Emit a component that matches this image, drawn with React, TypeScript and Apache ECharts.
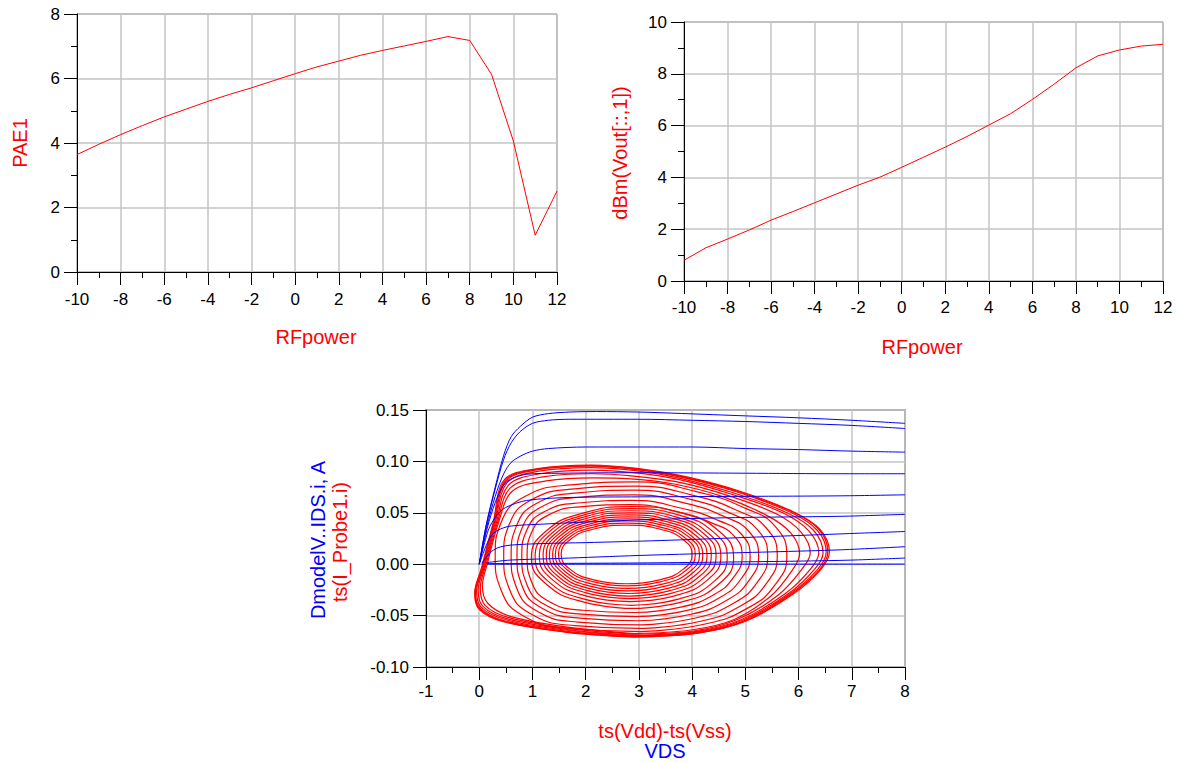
import { useEffect, useRef } from 'react';
import * as echarts from 'echarts';

// RF input power sweep (dBm)
const rfPower = [-10, -9, -8, -7, -6, -5, -4, -3, -2, -1, 0, 1, 2, 3, 4, 5, 6, 7, 8, 9, 10, 11, 12];

// Power-added efficiency (%)
const pae1 = [3.64, 3.96, 4.26, 4.54, 4.81, 5.05, 5.29, 5.51, 5.71, 5.93, 6.15, 6.36, 6.54, 6.72, 6.87, 7.01, 7.15, 7.3, 7.18, 6.13, 4.06, 1.14, 2.51];

// Fundamental output power (dBm)
const dbmVout = [0.8, 1.28, 1.62, 1.97, 2.35, 2.68, 3.02, 3.36, 3.7, 4.01, 4.39, 4.78, 5.17, 5.58, 6.02, 6.46, 7.01, 7.6, 8.23, 8.69, 8.92, 9.07, 9.14];

// DC IV family: [VDS, IDS] per gate-voltage step
const ivVgs1 = [[0.0, 0.0], [0.13, 0.038], [0.3, 0.075], [0.46, 0.106], [0.6, 0.124], [0.77, 0.134], [1.0, 0.143], [1.3, 0.1465], [1.7, 0.148], [2.2, 0.1485], [3.0, 0.148], [3.8, 0.1466], [5.0, 0.1443], [6.0, 0.1424], [7.0, 0.14], [8.0, 0.137]];
const ivVgs2 = [[0.0, 0.0], [0.13, 0.037], [0.3, 0.073], [0.46, 0.102], [0.6, 0.118], [0.77, 0.129], [1.0, 0.137], [1.3, 0.14], [1.7, 0.141], [3.0, 0.141], [4.0, 0.14], [5.0, 0.1388], [6.0, 0.137], [7.0, 0.135], [8.0, 0.132]];
const ivVgs3 = [[0.0, 0.0], [0.14, 0.036], [0.3, 0.066], [0.46, 0.088], [0.6, 0.099], [0.77, 0.105], [1.0, 0.11], [1.3, 0.1125], [2.0, 0.114], [3.0, 0.114], [4.0, 0.114], [5.0, 0.1125], [6.0, 0.1115], [7.0, 0.11], [8.0, 0.109]];
const ivVgs4 = [[0.0, 0.0], [0.15, 0.035], [0.3, 0.06], [0.46, 0.077], [0.6, 0.083], [0.89, 0.0875], [1.5, 0.0885], [3.0, 0.089], [5.0, 0.0885], [6.8, 0.088], [8.0, 0.088]];
const ivVgs5 = [[0.0, 0.0], [0.17, 0.033], [0.32, 0.047], [0.49, 0.055], [0.89, 0.062], [1.77, 0.065], [3.0, 0.0655], [5.0, 0.066], [6.8, 0.0665], [8.0, 0.0675]];
const ivVgs6 = [[0.0, 0.0], [0.2, 0.026], [0.35, 0.033], [0.58, 0.037], [1.2, 0.039], [2.45, 0.042], [3.4, 0.0437], [5.0, 0.0455], [6.8, 0.0466], [8.0, 0.0485]];
const ivVgs7 = [[0.05, 0.001], [0.2, 0.011], [0.35, 0.016], [0.58, 0.0185], [1.2, 0.0201], [2.0, 0.021], [3.4, 0.023], [5.0, 0.026], [6.8, 0.0295], [8.0, 0.0318]];
const ivVgs8 = [[0.15, 0.0016], [0.58, 0.004], [1.5, 0.0056], [3.0, 0.0085], [4.0, 0.01], [5.5, 0.012], [6.8, 0.014], [8.0, 0.017]];
const ivVgs9 = [[0.15, 0.0005], [1.5, 0.0008], [3.0, 0.0012], [4.5, 0.002], [6.0, 0.003], [7.0, 0.004], [8.0, 0.006]];
const ivVgs10 = [[0.15, 0.0], [8.0, 0.0]];
const ivFamily = [ivVgs1, ivVgs2, ivVgs3, ivVgs4, ivVgs5, ivVgs6, ivVgs7, ivVgs8, ivVgs9, ivVgs10];

// Dynamic load lines: [Vdd-Vss, I_Probe1] over one RF period, one loop per RF power step
const loopRfM10 = [[4.0, 0.0095], [3.835, 0.0238], [3.385, 0.0342], [2.77, 0.038], [2.155, 0.0342], [1.705, 0.0238], [1.54, 0.0095], [1.705, -0.0048], [2.155, -0.0152], [2.77, -0.019], [3.385, -0.0152], [3.835, -0.0048]];
const loopRfM9 = [[4.06, 0.0095], [3.888, 0.0248], [3.418, 0.0359], [2.775, 0.04], [2.132, 0.0359], [1.662, 0.0248], [1.49, 0.0095], [1.662, -0.0058], [2.132, -0.0169], [2.775, -0.021], [3.418, -0.0169], [3.888, -0.0058]];
const loopRfM8 = [[4.14, 0.0093], [3.958, 0.0257], [3.463, 0.0377], [2.785, 0.042], [2.107, 0.0377], [1.612, 0.0257], [1.43, 0.0093], [1.612, -0.0071], [2.107, -0.0191], [2.785, -0.0235], [3.463, -0.0191], [3.958, -0.0071]];
const loopRfM7 = [[4.2, 0.009], [4.011, 0.0265], [3.495, 0.0393], [2.79, 0.044], [2.085, 0.0393], [1.569, 0.0265], [1.38, 0.009], [1.569, -0.0085], [2.085, -0.0213], [2.79, -0.026], [3.495, -0.0213], [4.011, -0.0085]];
const loopRfM6 = [[4.28, 0.0088], [4.082, 0.0274], [3.54, 0.0411], [2.8, 0.046], [2.06, 0.0411], [1.518, 0.0274], [1.32, 0.0088], [1.518, -0.0098], [2.06, -0.0235], [2.8, -0.0285], [3.54, -0.0235], [4.082, -0.0098]];
const loopRfM5 = [[4.36, 0.0085], [4.152, 0.0283], [3.585, 0.0427], [2.81, 0.048], [2.035, 0.0427], [1.468, 0.0283], [1.26, 0.0085], [1.468, -0.0113], [2.035, -0.0257], [2.81, -0.031], [3.585, -0.0257], [4.152, -0.0113]];
const loopRfM4 = [[4.45, 0.0083], [4.232, 0.0292], [3.638, 0.0445], [2.825, 0.05], [2.013, 0.0445], [1.418, 0.0292], [1.2, 0.0083], [1.418, -0.0126], [2.013, -0.0279], [2.825, -0.0335], [3.638, -0.0279], [4.232, -0.0126]];
const loopRfM3 = [[4.54, 0.0078], [4.312, 0.0299], [3.688, 0.0461], [2.835, 0.052], [1.982, 0.0461], [1.358, 0.0299], [1.13, 0.0078], [1.358, -0.0143], [1.982, -0.0305], [2.835, -0.0365], [3.688, -0.0305], [4.312, -0.0143]];
const loopRfM2 = [[4.66, 0.007], [4.418, 0.0305], [3.758, 0.0477], [2.855, 0.054], [1.953, 0.0477], [1.292, 0.0305], [1.05, 0.007], [1.292, -0.0165], [1.953, -0.0337], [2.855, -0.04], [3.758, -0.0337], [4.418, -0.0165]];
const loopRfM1 = [[4.78, 0.0065], [4.525, 0.0313], [3.83, 0.0494], [2.88, 0.056], [1.93, 0.0494], [1.235, 0.0313], [0.98, 0.0065], [1.235, -0.0183], [1.93, -0.0364], [2.88, -0.043], [3.83, -0.0364], [4.525, -0.0183]];
const loopRf0 = [[4.94, 0.008], [4.778, 0.028], [4.374, 0.04], [3.728, 0.051], [2.839, 0.058], [1.95, 0.056], [1.304, 0.048], [0.981, 0.0305], [0.9, 0.008], [0.981, -0.0168], [1.304, -0.036], [1.95, -0.0448], [2.92, -0.047], [3.809, -0.0415], [4.415, -0.0294], [4.778, -0.0129]];
const loopRf1 = [[5.09, 0.008], [4.918, 0.0296], [4.489, 0.0426], [3.803, 0.0544], [2.859, 0.062], [1.915, 0.0598], [1.229, 0.0512], [0.886, 0.0323], [0.8, 0.008], [0.886, -0.0186], [1.229, -0.0392], [1.915, -0.0486], [2.945, -0.051], [3.889, -0.0451], [4.532, -0.0321], [4.918, -0.0144]];
const loopRf2 = [[5.25, 0.008], [5.068, 0.0318], [4.614, 0.0461], [3.888, 0.0592], [2.889, 0.0675], [1.89, 0.0651], [1.164, 0.0556], [0.801, 0.0348], [0.71, 0.008], [0.801, -0.0204], [1.164, -0.0424], [1.89, -0.0525], [2.98, -0.055], [3.979, -0.0487], [4.66, -0.0348], [5.068, -0.0159]];
const loopRf3 = [[5.42, 0.008], [5.227, 0.0336], [4.745, 0.049], [3.974, 0.063], [2.914, 0.072], [1.853, 0.0694], [1.082, 0.0592], [0.696, 0.0368], [0.6, 0.008], [0.696, -0.0222], [1.082, -0.0456], [1.853, -0.0563], [3.01, -0.059], [4.07, -0.0523], [4.793, -0.0376], [5.227, -0.0175]];
const loopRf4 = [[5.6, 0.008], [5.394, 0.0352], [4.88, 0.0515], [4.058, 0.0665], [2.927, 0.076], [1.796, 0.0733], [0.974, 0.0624], [0.563, 0.0386], [0.46, 0.008], [0.563, -0.0237], [0.974, -0.0484], [1.796, -0.0597], [3.03, -0.0625], [4.161, -0.0555], [4.932, -0.0399], [5.394, -0.0188]];
const loopRf5 = [[5.78, 0.008], [5.561, 0.0368], [5.013, 0.0541], [4.136, 0.0699], [2.93, 0.08], [1.725, 0.0771], [0.848, 0.0656], [0.41, 0.0404], [0.3, 0.008], [0.41, -0.0251], [0.848, -0.0508], [1.725, -0.0626], [3.04, -0.0655], [4.246, -0.0582], [5.068, -0.042], [5.561, -0.0199]];
const loopRf6 = [[6.02, 0.01], [5.86, 0.03], [5.42, 0.047], [4.56, 0.066], [3.66, 0.078], [2.84, 0.083], [2.14, 0.084], [1.26, 0.081], [0.62, 0.071], [0.36, 0.04], [0.16, 0.002], [0.06, -0.021], [0.16, -0.038], [0.6, -0.051], [1.7, -0.0615], [2.92, -0.0675], [3.98, -0.064], [4.78, -0.054], [5.48, -0.031], [5.88, -0.006]];
const loopRf7 = [[6.22, 0.011], [6.05, 0.031], [5.58, 0.049], [4.66, 0.067], [3.72, 0.08], [2.86, 0.086], [2.12, 0.088], [1.2, 0.085], [0.58, 0.074], [0.34, 0.04], [0.13, 0.0], [0.02, -0.023], [0.11, -0.04], [0.56, -0.052], [1.66, -0.0625], [2.9, -0.068], [4.02, -0.065], [4.86, -0.0535], [5.62, -0.03], [6.06, -0.005]];
const loopRf8 = [[6.38, 0.011], [6.2, 0.032], [5.7, 0.05], [4.74, 0.068], [3.78, 0.082], [2.9, 0.089], [2.1, 0.0915], [1.15, 0.088], [0.55, 0.077], [0.32, 0.04], [0.1, -0.002], [-0.02, -0.025], [0.07, -0.041], [0.52, -0.053], [1.64, -0.0635], [2.9, -0.069], [4.06, -0.0655], [4.92, -0.054], [5.74, -0.029], [6.22, -0.005]];
const loopRf9 = [[6.46, 0.011], [6.28, 0.033], [5.78, 0.05], [4.8, 0.069], [3.82, 0.083], [2.94, 0.091], [2.1, 0.094], [1.12, 0.0905], [0.52, 0.079], [0.3, 0.04], [0.08, -0.003], [-0.05, -0.026], [0.04, -0.042], [0.5, -0.054], [1.62, -0.064], [2.9, -0.0695], [4.08, -0.066], [4.95, -0.0545], [5.8, -0.029], [6.3, -0.005]];
const loopRf10 = [[6.52, 0.012], [6.35, 0.033], [5.85, 0.0505], [4.86, 0.07], [3.86, 0.084], [2.96, 0.092], [2.1, 0.0955], [1.1, 0.092], [0.5, 0.0805], [0.285, 0.04], [0.06, -0.004], [-0.07, -0.027], [0.02, -0.043], [0.47, -0.055], [1.6, -0.065], [2.9, -0.07], [4.1, -0.0665], [4.98, -0.055], [5.85, -0.0285], [6.36, -0.005]];
const loopRf11 = [[6.55, 0.012], [6.38, 0.034], [5.88, 0.051], [4.88, 0.0705], [3.88, 0.0845], [2.98, 0.0925], [2.1, 0.096], [1.1, 0.0925], [0.49, 0.0815], [0.27, 0.04], [0.05, -0.004], [-0.08, -0.028], [0.01, -0.0435], [0.46, -0.0555], [1.6, -0.0655], [2.9, -0.0705], [4.1, -0.067], [5.0, -0.0553], [5.88, -0.0285], [6.4, -0.005]];
const loopRf12 = [[6.58, 0.012], [6.4, 0.034], [5.9, 0.051], [4.9, 0.071], [3.9, 0.085], [3.0, 0.093], [2.1, 0.0965], [1.1, 0.093], [0.47, 0.082], [0.26, 0.04], [0.04, -0.004], [-0.085, -0.028], [0.0, -0.044], [0.45, -0.056], [1.6, -0.066], [2.9, -0.071], [4.1, -0.067], [5.0, -0.0555], [5.9, -0.029], [6.42, -0.005]];
const probeLoops = [
  loopRfM10, loopRfM9, loopRfM8, loopRfM7, loopRfM6, loopRfM5, loopRfM4, loopRfM3, loopRfM2, loopRfM1,
  loopRf0, loopRf1, loopRf2, loopRf3, loopRf4, loopRf5, loopRf6, loopRf7, loopRf8, loopRf9, loopRf10, loopRf11, loopRf12,
];

const FONT = '"Liberation Sans", Arial, sans-serif';
const RED = '#ff0000';
const BLUE = '#0000ff';
const GRID_LINE = '#c4c4c4';

function axisBase(gridIndex: number, min: number, max: number, interval: number, labelMargin: number, minor: boolean, tickLen: number) {
  return {
    type: 'value' as const,
    gridIndex,
    min,
    max,
    interval,
    axisLine: { show: true, onZero: false, lineStyle: { color: '#000', width: 1 } },
    axisTick: { show: true, length: tickLen, lineStyle: { color: '#000', width: 1 } },
    minorTick: { show: minor, splitNumber: 2, length: 6, lineStyle: { color: '#000', width: 1 } },
    splitLine: { show: true, lineStyle: { color: GRID_LINE, width: 1.5 } },
    axisLabel: { fontSize: 17, color: '#000', fontFamily: FONT, margin: labelMargin },
  };
}

// Re-start each closed trace at its lowest sample so the smoothed seam sits on the flat bottom edge
function closeLoop(pts: number[][]) {
  let start = 0;
  pts.forEach((p, i) => {
    if (p[1] < pts[start][1]) start = i;
  });
  const ordered = pts.slice(start).concat(pts.slice(0, start));
  return ordered.concat([ordered[0]]);
}

export default function App() {
  const ref = useRef<HTMLDivElement>(null);

  useEffect(() => {
    const chart = echarts.init(ref.current!, undefined, { renderer: 'svg' });

    const loopSeries = probeLoops.map((pts, i) => ({
      type: 'line' as const,
      name: 'ts(I_Probe1.i)',
      xAxisIndex: 2,
      yAxisIndex: 2,
      data: closeLoop(pts),
      showSymbol: false,
      smooth: i < 16 ? 0.5 : 0.35,
      lineStyle: { color: RED, width: 1.2 },
      silent: true,
      z: 2,
    }));

    const ivSeries = ivFamily.map((pts) => ({
      type: 'line' as const,
      name: 'DmodelV..IDS.i',
      xAxisIndex: 2,
      yAxisIndex: 2,
      data: pts,
      showSymbol: false,
      smooth: 0.3,
      lineStyle: { color: BLUE, width: 1 },
      silent: true,
      z: 3,
    }));

    const titleText = (text: string, x: number, y: number, color: string, vertical = false) => ({
      type: 'text' as const,
      x,
      y,
      rotation: vertical ? Math.PI / 2 : 0,
      style: {
        text,
        fill: color,
        fontSize: 20,
        fontFamily: FONT,
        textAlign: 'center',
        textVerticalAlign: 'middle',
      },
    });

    chart.setOption({
      animation: false,
      backgroundColor: '#ffffff',
      grid: [
        { left: 77, top: 14, width: 480, height: 258, show: true, borderColor: '#6e6e6e', borderWidth: 1 },
        { left: 684, top: 22, width: 479, height: 259, show: true, borderColor: '#6e6e6e', borderWidth: 1 },
        { left: 426, top: 410, width: 479, height: 257, show: true, borderColor: '#6e6e6e', borderWidth: 1.5 },
      ],
      xAxis: [
        axisBase(0, -10, 12, 2, 19, true, 13),
        axisBase(1, -10, 12, 2, 18, true, 13),
        axisBase(2, -1, 8, 1, 16, true, 13),
      ],
      yAxis: [
        axisBase(0, 0, 8, 2, 17, true, 13),
        axisBase(1, 0, 10, 2, 17, true, 13),
        {
          ...axisBase(2, -0.1, 0.15, 0.05, 17, false, 13),
          axisLabel: {
            fontSize: 17,
            color: '#000',
            fontFamily: FONT,
            margin: 17,
            formatter: (v: number) => (Math.abs(v) < 1e-9 ? 0 : v).toFixed(2),
          },
        },
      ],
      series: [
        {
          type: 'line',
          name: 'PAE1',
          xAxisIndex: 0,
          yAxisIndex: 0,
          data: rfPower.map((x, i) => [x, pae1[i]]),
          showSymbol: false,
          lineStyle: { color: RED, width: 1 },
          silent: true,
        },
        {
          type: 'line',
          name: 'dBm(Vout[::,1])',
          xAxisIndex: 1,
          yAxisIndex: 1,
          data: rfPower.map((x, i) => [x, dbmVout[i]]),
          showSymbol: false,
          lineStyle: { color: RED, width: 1 },
          silent: true,
        },
        ...loopSeries,
        ...ivSeries,
      ],
      graphic: [
        titleText('PAE1', 20, 143, RED, true),
        titleText('RFpower', 316, 337, RED),
        titleText('dBm(Vout[::,1])', 620, 153, RED, true),
        titleText('RFpower', 922, 347, RED),
        titleText('DmodelV..IDS.i, A', 318, 540, BLUE, true),
        titleText('ts(I_Probe1.i)', 340, 542, RED, true),
        titleText('ts(Vdd)-ts(Vss)', 665, 731, RED),
        titleText('VDS', 665, 751, BLUE),
      ],
    });

    return () => chart.dispose();
  }, []);

  return (
    <div
      ref={ref}
      style={{ position: 'fixed', left: 0, top: 0, width: 1177, height: 763, background: '#ffffff' }}
    />
  );
}
